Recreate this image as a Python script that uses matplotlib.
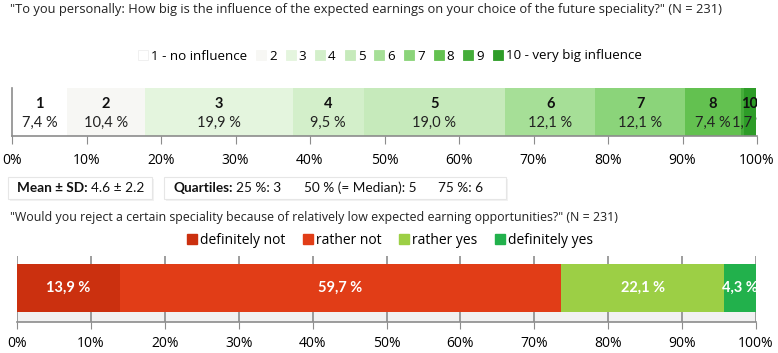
import numpy as np
import matplotlib.pyplot as plt
from matplotlib.lines import Line2D
from matplotlib.patches import Rectangle

W, H = 778, 353

# data: influence of expected earnings (1..10)
scale_labels = ['1', '2', '3', '4', '5', '6', '7', '8', '9', '10']
legend1_labels = ['1 - no influence', '2', '3', '4', '5', '6', '7', '8', '9',
                  '10 - very big influence']
scale_values = [7.4, 10.4, 19.9, 9.5, 19.0, 12.1, 12.1, 7.4, 0.4, 1.7]
scale_colors = ['#ffffff', '#f7f7f4', '#e4f5de', '#d3efca', '#c6eabb',
                '#a6df97', '#8bd47a', '#63c150', '#45ad3a', '#2e9c28']

# data: rejection because of low earnings
reject_labels = ['definitely not', 'rather not', 'rather yes', 'definitely yes']
reject_values = [13.9, 59.7, 22.1, 4.3]
reject_colors = ['#cb300f', '#e13d17', '#9ccf45', '#22b14c']

title1 = ('"To you personally: How big is the influence of the expected earnings '
          'on your choice of the future speciality?" (N = 231)')
title2 = ('"Would you reject a certain speciality because of relatively low '
          'expected earning opportunities?" (N = 231)')

ticks = np.arange(0, 101, 10)
tick_labels = [f'{t}%' for t in ticks]

FONT = 'Open Sans'
NARROW = 'Lato'
GRAY = '#8c8c8c'


def fx(px):
    return px / W


def fy(py):
    return 1 - py / H


def pct(v):
    return f'{v:.1f}'.replace('.', ',') + ' %'


fig = plt.figure(figsize=(W / 100, H / 100), dpi=100)
fig.patch.set_facecolor('white')

# ---- first question ----
fig.text(fx(10), fy(10), title1, fontsize=9.25, family=FONT, va='center', color='#222')

h1 = [Line2D([], [], marker='s', ls='none', markersize=7, markerfacecolor=c,
             markeredgecolor='#eeeeee' if i == 0 else c, markeredgewidth=0.6)
      for i, c in enumerate(scale_colors)]
fig.legend(h1, legend1_labels, loc='center', bbox_to_anchor=(0.5, fy(56)), ncol=10,
           frameon=False, handletextpad=0.1, columnspacing=0.55, handlelength=1.0,
           prop={'family': FONT, 'size': 9.6})

ax1 = fig.add_axes([fx(12), fy(136), fx(745), 48 / H])
left = 0
for lab, v, c in zip(scale_labels, scale_values, scale_colors):
    ax1.barh(0.5, v, left=left, height=1, color=c, edgecolor='none')
    if v >= 1:
        cx = left + v / 2
        ax1.text(cx, 0.66, lab, ha='center', va='center', fontsize=10.5,
                 fontweight='bold', family=NARROW, color='#111', clip_on=True)
        ax1.text(cx, 0.27, pct(v), ha='center', va='center', fontsize=10.5,
                 family=NARROW, color='#222', clip_on=True)
    left += v
ax1.set_xlim(0, 100)
ax1.set_ylim(0, 1)
ax1.set_yticks([])
ax1.set_xticks(ticks)
ax1.set_xticklabels(tick_labels, family=FONT, fontsize=10)
ax1.tick_params(axis='x', direction='out', length=6, color=GRAY, pad=6)
for s in ['top', 'right']:
    ax1.spines[s].set_visible(False)
for s in ['bottom', 'left']:
    ax1.spines[s].set_color(GRAY)
    ax1.spines[s].set_linewidth(1.2)

# ---- summary boxes ----
def box(x0, x1, y0, y1):
    fig.patches.append(Rectangle((fx(x0) + 0.002, fy(y1) - 0.005), fx(x1 - x0), (y1 - y0) / H,
                                 transform=fig.transFigure, fc='#f2f2f2', ec='none', zorder=1))
    fig.patches.append(Rectangle((fx(x0), fy(y1)), fx(x1 - x0), (y1 - y0) / H,
                                 transform=fig.transFigure, fc='white', ec='#e6e6e6',
                                 lw=0.8, zorder=2))


box(8, 152, 177, 199)
box(164, 506, 177, 199)

fig.canvas.draw()
renderer = fig.canvas.get_renderer()


def chain(x, y, parts):
    for txt, bold, gap in parts:
        t = fig.text(fx(x), fy(y), txt, fontsize=9.8, family=NARROW, va='center',
                     fontweight='bold' if bold else 'normal', color='#111', zorder=3)
        bb = t.get_window_extent(renderer)
        x = x + bb.width + gap


chain(17, 188, [('Mean ± SD:', True, 3), ('4.6 ± 2.2', False, 0)])
chain(174, 188, [('Quartiles:', True, 3), ('25 %: 3', False, 22),
                 ('50 % (= Median): 5', False, 22), ('75 %: 6', False, 0)])

# ---- second question ----
fig.text(fx(10), fy(218), title2, fontsize=8.9, family=FONT, va='center', color='#222')

h2 = [Line2D([], [], marker='s', ls='none', markersize=7, markerfacecolor=c,
             markeredgecolor=c) for c in reject_colors]
fig.legend(h2, reject_labels, loc='center', bbox_to_anchor=(0.5, fy(240)), ncol=4,
           frameon=False, handletextpad=0.1, columnspacing=1.1, handlelength=1.0,
           prop={'family': FONT, 'size': 10})

ax2 = fig.add_axes([fx(17), fy(322), fx(739), 66 / H])
ax2.axhspan(0, 10, color='#f1f1f1', zorder=0)
left = 0
for v, c in zip(reject_values, reject_colors):
    ax2.barh(34, v, left=left, height=48, color=c, edgecolor='none', zorder=2)
    ax2.text(left + v / 2, 34, pct(v), ha='center', va='center', fontsize=10.5,
             fontweight='bold', family=NARROW, color='white', zorder=3, clip_on=True)
    left += v
ax2.set_xlim(0, 100)
ax2.set_ylim(0, 66)
ax2.set_yticks([])
ax2.set_xticks(ticks)
ax2.set_xticklabels(tick_labels, family=FONT, fontsize=10)
ax2.grid(axis='x', color=GRAY, lw=1.2, zorder=1)
ax2.tick_params(axis='x', direction='out', length=5, color=GRAY, pad=5)
for s in ['top', 'right', 'left']:
    ax2.spines[s].set_visible(False)
ax2.spines['bottom'].set_color(GRAY)
ax2.spines['bottom'].set_linewidth(1.2)

fig.savefig('out.png', dpi=100)
